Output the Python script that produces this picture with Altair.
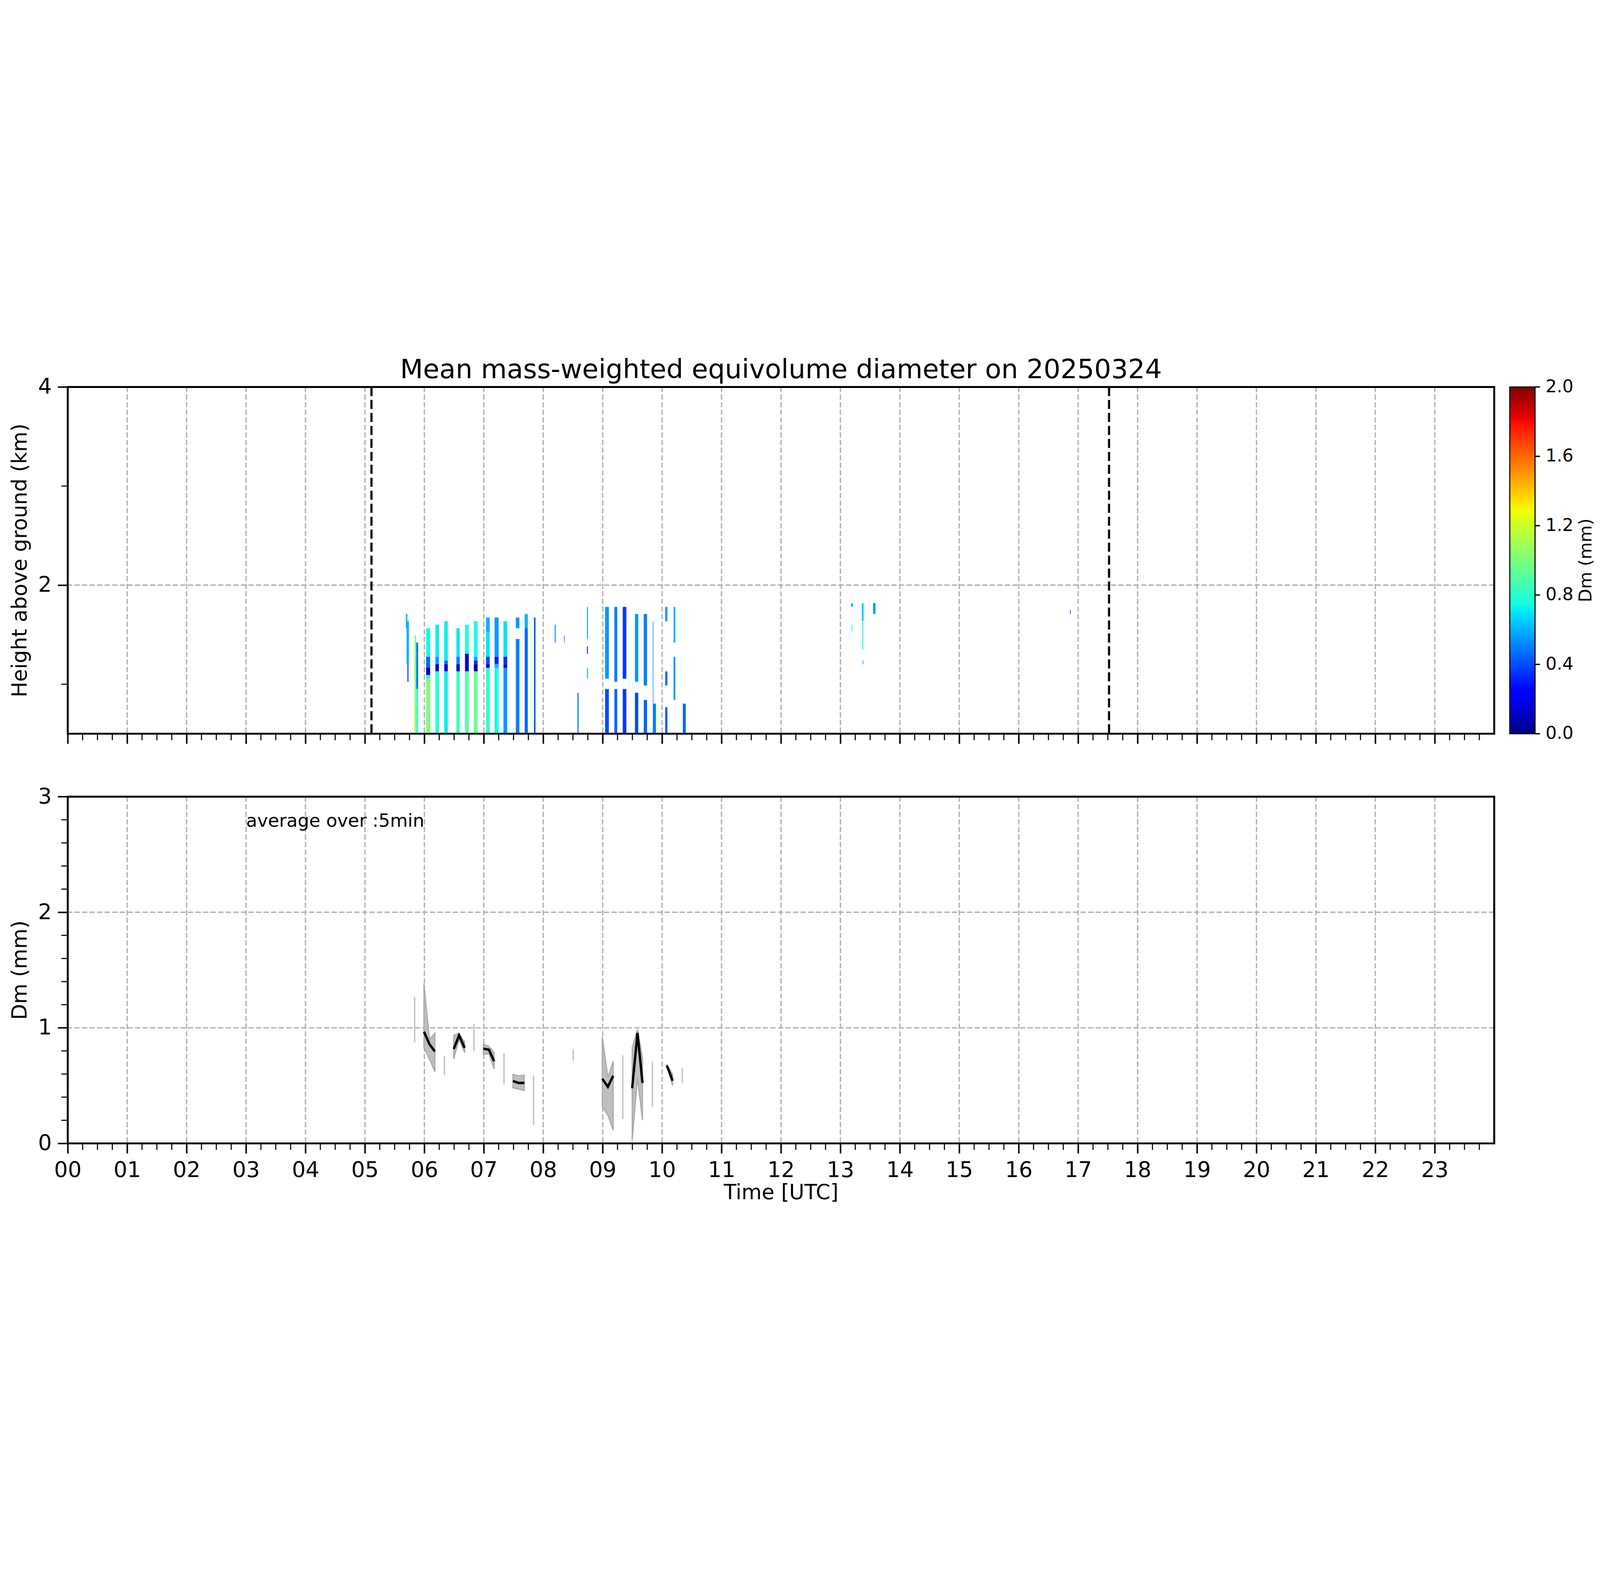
import altair as alt
import pandas as pd

# ---------------- top panel: radar Dm segments (time [h], height [km], Dm [mm]) -------------
seg_t0 = [5.688, 5.700, 5.715,
          5.836, 5.862, 5.862, 5.836,
          6.030, 6.030, 6.030, 6.030, 6.030,
          6.186, 6.186, 6.186, 6.186,
          6.335, 6.335, 6.335, 6.335,
          6.539, 6.539, 6.539, 6.539,
          6.684, 6.684, 6.684,
          6.833, 6.833, 6.833, 6.833, 6.833,
          7.037, 7.037, 7.037, 7.037, 7.037,
          7.182, 7.182, 7.182, 7.182,
          7.331, 7.331, 7.331, 7.331,
          7.539, 7.539,
          7.688, 7.688,
          7.844,
          8.193, 8.350, 8.576, 8.736, 8.736, 8.736,
          9.041, 9.041, 9.197, 9.197, 9.338, 9.338,
          9.543, 9.543, 9.691, 9.691, 9.844, 9.844,
          10.052, 10.052, 10.052, 10.193, 10.193, 10.349,
          13.18, 13.19, 13.36, 13.37, 13.375, 13.55,
          16.865]
seg_t1 = [5.715, 5.740, 5.732,
          5.862, 5.896, 5.896, 5.850,
          6.097, 6.097, 6.097, 6.097, 6.097,
          6.245, 6.245, 6.245, 6.245,
          6.394, 6.394, 6.394, 6.394,
          6.595, 6.595, 6.595, 6.595,
          6.747, 6.747, 6.747,
          6.896, 6.896, 6.896, 6.896, 6.896,
          7.100, 7.100, 7.100, 7.100, 7.100,
          7.249, 7.249, 7.249, 7.249,
          7.394, 7.394, 7.394, 7.394,
          7.599, 7.599,
          7.740, 7.740,
          7.870,
          8.208, 8.358, 8.595, 8.751, 8.751, 8.751,
          9.104, 9.104, 9.245, 9.245, 9.398, 9.398,
          9.599, 9.599, 9.747, 9.747, 9.852, 9.896,
          10.089, 10.089, 10.089, 10.223, 10.223, 10.398,
          13.21, 13.20, 13.39, 13.385, 13.385, 13.59,
          16.875]
seg_htop = [1.708, 1.636, 1.203,
            1.493, 1.420, 0.951, 0.804,
            1.565, 1.276, 1.166, 1.092, 1.056,
            1.601, 1.276, 1.203, 1.129,
            1.636, 1.237, 1.203, 1.129,
            1.565, 1.276, 1.203, 1.129,
            1.601, 1.307, 1.129,
            1.636, 1.276, 1.237, 1.203, 1.129,
            1.673, 1.528, 1.276, 1.203, 1.166,
            1.673, 1.276, 1.203, 1.166,
            1.636, 1.276, 1.203, 1.166,
            1.673, 1.456,
            1.708, 1.565,
            1.673,
            1.601, 1.493, 0.914, 1.780, 1.381, 1.166,
            1.780, 0.951, 1.780, 0.951, 1.780, 0.951,
            1.708, 0.914, 1.708, 0.841, 1.636, 0.804,
            1.780, 1.129, 0.767, 1.780, 1.276, 0.804,
            1.818, 1.600, 1.818, 1.640, 1.240, 1.818,
            1.750]
seg_hbot = [1.565, 1.203, 1.024,
            0.500, 0.951, 0.500, 0.500,
            1.276, 1.166, 1.092, 1.056, 0.500,
            1.276, 1.203, 1.129, 0.500,
            1.237, 1.203, 1.129, 0.500,
            1.276, 1.203, 1.129, 0.500,
            1.307, 1.129, 0.500,
            1.276, 1.237, 1.203, 1.129, 0.500,
            1.528, 1.276, 1.203, 1.166, 0.500,
            1.276, 1.203, 1.166, 0.500,
            1.276, 1.203, 1.166, 0.500,
            1.565, 0.500,
            1.565, 0.500,
            0.500,
            1.420, 1.420, 0.500, 1.456, 1.307, 1.056,
            1.056, 0.500, 1.024, 0.500, 1.056, 0.500,
            1.024, 0.500, 0.987, 0.500, 0.804, 0.500,
            1.636, 0.987, 0.500, 1.420, 0.841, 0.500,
            1.780, 1.530, 1.640, 1.350, 1.200, 1.710,
            1.710]
seg_dm = [0.62, 0.60, 0.35,
          1.00, 0.50, 0.85, 1.15,
          0.75, 0.45, 0.10, 0.80, 1.00,
          0.72, 0.55, 0.15, 0.78,
          0.72, 0.45, 0.12, 0.72,
          0.70, 0.50, 0.08, 0.85,
          0.78, 0.15, 0.90,
          0.75, 0.60, 0.35, 0.05, 0.95,
          0.60, 0.70, 0.40, 0.10, 0.82,
          0.55, 0.30, 0.60, 0.75,
          0.70, 0.35, 0.15, 0.55,
          0.55, 0.50,
          0.60, 0.45,
          0.42,
          0.50, 0.40, 0.50, 0.55, 0.30, 0.60,
          0.55, 0.40, 0.50, 0.45, 0.35, 0.35,
          0.55, 0.40, 0.50, 0.45, 0.45, 0.50,
          0.55, 0.45, 0.42, 0.60, 0.55, 0.45,
          0.60, 0.70, 0.65, 0.75, 0.55, 0.55,
          0.30]

sun_times = [5.11, 17.52]

# ---------------- bottom panel: 5-min averaged Dm ----------------
line_seg = [1, 1, 1, 2, 2, 2, 3, 3, 3, 4, 4, 4, 5, 5, 5, 6, 6, 6, 7, 7]
line_t = [5.993, 6.087, 6.177, 6.494, 6.584, 6.678, 6.993, 7.087, 7.174,
          7.490, 7.584, 7.681, 8.993, 9.087, 9.177, 9.496, 9.586, 9.670,
          10.080, 10.177]
line_dm = [0.966, 0.857, 0.795, 0.816, 0.934, 0.826, 0.820, 0.810, 0.710,
           0.540, 0.523, 0.523, 0.560, 0.490, 0.585, 0.477, 0.955, 0.523,
           0.674, 0.542]
band_hi = [1.380, 0.900, 0.955, 0.936, 0.952, 0.877, 0.860, 0.840, 0.784,
           0.597, 0.585, 0.590, 0.923, 0.574, 0.710, 0.827, 0.986, 0.739,
           0.680, 0.600]
band_lo = [0.830, 0.727, 0.620, 0.730, 0.900, 0.786, 0.773, 0.773, 0.644,
           0.480, 0.470, 0.458, 0.318, 0.244, 0.114, 0.023, 0.566, 0.200,
           0.670, 0.500]

single_t = [5.837, 6.337, 6.835, 7.340, 7.837, 8.504, 9.339, 9.837, 10.339]
single_lo = [0.875, 0.589, 0.798, 0.511, 0.161, 0.716, 0.210, 0.318, 0.520]
single_hi = [1.267, 0.758, 1.036, 0.780, 0.587, 0.810, 0.761, 0.705, 0.650]

# ---------------- ticks / labels ----------------
x_major = list(range(24))
x_minor = [h + q for h in range(24) for q in (0.25, 0.5, 0.75)]
x_grid = list(range(1, 24))
y_top_major = [2, 4]
y_top_minor = [1, 3]
y_top_grid = [2]
y_bot_major = [0, 1, 2, 3]
y_bot_minor = [0.2, 0.4, 0.6, 0.8, 1.2, 1.4, 1.6, 1.8, 2.2, 2.4, 2.6, 2.8]
y_bot_grid = [1, 2]
cbar_ticks = [0.0, 0.4, 0.8, 1.2, 1.6, 2.0]
cbar_labels = ["0.0", "0.4", "0.8", "1.2", "1.6", "2.0"]
cbar_title = ["Dm (mm)"]
main_title = ["Mean mass-weighted equivolume diameter on 20250324"]
note_text = ["average over :5min"]

jet_domain = [0, 0.22, 0.25, 0.68, 0.70, 0.75, 1.28, 1.32, 1.78, 1.82, 2.0]
jet_range = ["#000080", "#0000ff", "#0000ff", "#00dbff", "#00e5f7", "#14ffe2",
             "#eeff08", "#ffec00", "#ff1300", "#e80000", "#800000"]

FONT = "DejaVu Sans"
W = 6600
H = 1604
MAJ, MIN = 46, 30
GRID = "#b0b0b0"
GDASH = [24, 11]

heat = pd.DataFrame({"t0": seg_t0, "t1": seg_t1, "htop": seg_htop,
                     "hbot": seg_hbot, "dm": seg_dm})
sun = pd.DataFrame({"t": sun_times})
lines = pd.DataFrame({"seg": line_seg, "t": line_t, "dm": line_dm,
                      "lo": band_lo, "hi": band_hi})
singles = pd.DataFrame({"t": single_t, "lo": single_lo, "hi": single_hi})
note = pd.DataFrame({"t": [3.0], "dm": [2.74], "txt": note_text})
one = pd.DataFrame({"k": [0]})
cbt = pd.DataFrame({"txt": cbar_title})
ttl = pd.DataFrame({"txt": main_title})
cbticks = pd.DataFrame({"v": cbar_ticks, "lab": cbar_labels})
xminor = pd.DataFrame({"t": x_minor})
xgrid = pd.DataFrame({"t": x_grid})

xscale = alt.Scale(domain=[0, 24], nice=False, zero=False)
top_y = alt.Scale(domain=[0.5, 4], nice=False, zero=False)
bot_y = alt.Scale(domain=[0, 3], nice=False, zero=False)
cb_y = alt.Scale(domain=[0, 2], nice=False, zero=False)


def x_axis(labels, title=None):
    return alt.Axis(
        orient="bottom",
        values=x_major,
        domain=False,
        grid=False,
        tickColor="black",
        tickSize=MAJ,
        tickWidth=7,
        labelFont=FONT,
        labelFontSize=100,
        labelColor="black",
        labelPadding=29,
        labelFlush=False,
        labelOverlap=False,
        labelExpr="(datum.value < 10 ? '0' : '') + datum.value",
        labels=labels,
        title=title,
        titleFont=FONT,
        titleFontSize=96,
        titleFontWeight="normal",
        titleColor="black",
        titlePadding=8,
    )


def y_axis(values, title):
    return alt.Axis(
        orient="left",
        values=values,
        domain=False,
        grid=False,
        tickColor="black",
        tickSize=MAJ,
        tickWidth=7,
        labelFont=FONT,
        labelFontSize=100,
        labelColor="black",
        labelPadding=28,
        labelFlush=False,
        labelOverlap=False,
        format="d",
        title=title,
        titleFont=FONT,
        titleFontSize=96,
        titleFontWeight="normal",
        titleColor="black",
        titlePadding=34,
    )


AX_TOP = x_axis(False)
AX_BOT = x_axis(True, "Time [UTC]")
AY_TOP = y_axis(y_top_major, "Height above ground (km)")
AY_BOT = y_axis(y_bot_major, "Dm (mm)")


def xgrid_layer(ax):
    return alt.Chart(xgrid).mark_rule(color=GRID, strokeWidth=6, strokeDash=GDASH).encode(
        x=alt.X("t:Q", scale=xscale, axis=ax))


def xminor_layer(ax):
    return alt.Chart(xminor).mark_rule(color="black", strokeWidth=5).encode(
        x=alt.X("t:Q", scale=xscale, axis=ax),
        y=alt.value(H),
        y2=alt.value(H + MIN),
    )


def ygrid_layer(vals, scale, ax):
    return alt.Chart(pd.DataFrame({"v": vals})).mark_rule(
        color=GRID, strokeWidth=6, strokeDash=GDASH).encode(
        y=alt.Y("v:Q", scale=scale, axis=ax))


def yminor_layer(vals, scale, ax):
    return alt.Chart(pd.DataFrame({"v": vals})).mark_rule(color="black", strokeWidth=5).encode(
        y=alt.Y("v:Q", scale=scale, axis=ax),
        x=alt.value(0),
        x2=alt.value(-MIN),
    )


def frame_layer():
    return alt.Chart(one).mark_rect(fillOpacity=0, stroke="black", strokeWidth=9).encode(
        x=alt.value(0), x2=alt.value(W), y=alt.value(0), y2=alt.value(H))


color_scale = alt.Scale(domain=jet_domain, range=jet_range, interpolate="rgb", clamp=True)

heat_layer = alt.Chart(heat).mark_rect(strokeWidth=0).encode(
    x=alt.X("t0:Q", scale=xscale, axis=AX_TOP),
    x2="t1:Q",
    y=alt.Y("htop:Q", scale=top_y, axis=AY_TOP),
    y2="hbot:Q",
    color=alt.Color("dm:Q", scale=color_scale, legend=None),
)

sun_layer = alt.Chart(sun).mark_rule(color="black", strokeWidth=10, strokeDash=[42, 18]).encode(
    x=alt.X("t:Q", scale=xscale, axis=AX_TOP)
)

cbar_rect = alt.Chart(one).mark_rect(
    fill=alt.Gradient(
        gradient="linear", x1=0, x2=0, y1=1, y2=0,
        stops=[alt.GradientStop(color=c, offset=d / 2.0) for d, c in zip(jet_domain, jet_range)],
    ),
    stroke="black", strokeWidth=5,
).encode(
    x=alt.value(W + 72), x2=alt.value(W + 189), y=alt.value(0), y2=alt.value(H)
)

cbar_tick_layer = alt.Chart(cbticks).mark_rule(color="black", strokeWidth=6).encode(
    x=alt.value(W + 189),
    x2=alt.value(W + 212),
    y=alt.Y("v:Q", scale=cb_y, axis=None),
)

cbar_text_layer = alt.Chart(cbticks).mark_text(
    align="left", baseline="middle", font=FONT, fontSize=81, color="black"
).encode(
    x=alt.value(W + 238),
    y=alt.Y("v:Q", scale=cb_y, axis=None),
    text="lab:N",
)

cbar_label = alt.Chart(cbt).mark_text(
    angle=270, align="center", baseline="middle", font=FONT, fontSize=81, color="black"
).encode(
    x=alt.value(W + 425),
    y=alt.value(H / 2),
    text="txt:N",
)

title_mark = alt.Chart(ttl).mark_text(
    align="center", baseline="alphabetic", font=FONT, fontSize=123, color="black"
).encode(
    x=alt.value(W / 2),
    y=alt.value(-41),
    text="txt:N",
)

top = alt.layer(
    xgrid_layer(AX_TOP), ygrid_layer(y_top_grid, top_y, None),
    heat_layer, sun_layer,
    xminor_layer(AX_TOP), yminor_layer(y_top_minor, top_y, None), frame_layer(),
    cbar_rect, cbar_tick_layer, cbar_text_layer, cbar_label, title_mark,
).resolve_scale(y="independent").properties(width=W, height=H)

band_layer = alt.Chart(lines).mark_area(
    color="#bfbfbf", opacity=1, stroke="#a8a8a8", strokeWidth=5
).encode(
    x=alt.X("t:Q", scale=xscale, axis=AX_BOT),
    y=alt.Y("hi:Q", scale=bot_y, axis=AY_BOT),
    y2="lo:Q",
    detail="seg:N",
)

single_layer = alt.Chart(singles).mark_rule(color="#bfbfbf", strokeWidth=6).encode(
    x=alt.X("t:Q", scale=xscale, axis=AX_BOT),
    y=alt.Y("hi:Q", scale=bot_y, axis=AY_BOT),
    y2="lo:Q",
)

line_layer = alt.Chart(lines).mark_line(color="black", strokeWidth=11).encode(
    x=alt.X("t:Q", scale=xscale, axis=AX_BOT),
    y=alt.Y("dm:Q", scale=bot_y, axis=AY_BOT),
    detail="seg:N",
)

note_layer = alt.Chart(note).mark_text(
    align="left", baseline="alphabetic", font=FONT, fontSize=84, color="black"
).encode(
    x=alt.X("t:Q", scale=xscale, axis=AX_BOT),
    y=alt.Y("dm:Q", scale=bot_y, axis=AY_BOT),
    text="txt:N",
)

bottom = alt.layer(
    xgrid_layer(AX_BOT), ygrid_layer(y_bot_grid, bot_y, AY_BOT),
    band_layer, single_layer, line_layer, note_layer,
    xminor_layer(AX_BOT), yminor_layer(y_bot_minor, bot_y, AY_BOT), frame_layer(),
).properties(width=W, height=H)

chart = alt.vconcat(top, bottom, spacing=191).properties(
    padding={"left": 30, "top": 40, "right": 10, "bottom": 0},
    background="white",
).configure_view(
    strokeWidth=0
)

chart.save("out.html", embed_options={"renderer": "svg", "actions": False})
